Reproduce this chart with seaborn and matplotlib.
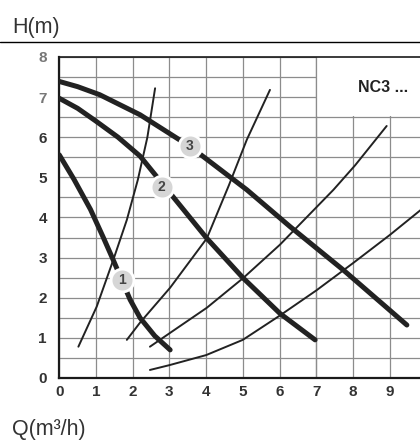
import numpy as np
import seaborn as sns
from matplotlib import pyplot as plt
from matplotlib.patches import Rectangle
from matplotlib.lines import Line2D

# pump curves (speed 1, 2, 3), Q in m3/h, H in m
q1 = [0, 0.4, 0.85, 1.2, 1.47, 1.93, 2.2, 2.6, 3.02]
h1 = [5.56, 4.95, 4.2, 3.5, 2.94, 1.95, 1.5, 1.05, 0.70]

q2 = [0, 0.5, 1.0, 1.6, 2.2, 3.06, 4.02, 5.01, 6.01, 6.97]
h2 = [6.97, 6.72, 6.4, 6.0, 5.53, 4.56, 3.48, 2.49, 1.61, 0.95]

q3 = [0, 0.5, 1.1, 2.2, 3.56, 5.11, 6.29, 7.74, 9.47]
h3 = [7.39, 7.26, 7.06, 6.56, 5.77, 4.69, 3.77, 2.69, 1.32]

# thin system curves
qa = [0.52, 1.02, 1.47, 1.84, 2.14, 2.4, 2.61]
ha = [0.78, 1.78, 2.94, 3.94, 4.94, 6.0, 7.22]

qb = [1.84, 2.2, 3.02, 4.02, 4.62, 5.11, 5.74]
hb = [0.95, 1.38, 2.25, 3.48, 4.8, 5.94, 7.18]

qc = [2.47, 3.06, 4.02, 5.01, 6.01, 7.47, 8.06, 8.92]
hc = [0.78, 1.15, 1.75, 2.49, 3.32, 4.69, 5.3, 6.28]

qd = [2.47, 3.0, 4.0, 5.0, 6.0, 7.0, 8.0, 9.0, 10.0]
hd = [0.2, 0.32, 0.57, 0.95, 1.55, 2.18, 2.86, 3.56, 4.3]

# speed markers
mark_q = [1.7, 2.79, 3.56]
mark_h = [2.44, 4.76, 5.77]
mark_txt = ["1", "2", "3"]

x_ticks = list(range(11))
x_labels = [str(v) for v in range(10)] + [""]
y_ticks = list(range(9))

sns.set_style('white')
plt.rcParams['font.family'] = ['Liberation Sans', 'DejaVu Sans']

ink = '#222222'
grid_col = '#8c8c8c'

fig = plt.figure(figsize=(4.2, 4.41), dpi=100)
ax = fig.add_axes([0.1412, 0.1429, 0.8738, 0.7279])

for q, h in [(qa, ha), (qb, hb), (qc, hc), (qd, hd)]:
    sns.lineplot(x=q, y=h, ax=ax, color=ink, linewidth=1.4, sort=False, estimator=None, zorder=2)

for q, h in [(q1, h1), (q2, h2), (q3, h3)]:
    sns.lineplot(x=q, y=h, ax=ax, color=ink, linewidth=3.6, sort=False, estimator=None, zorder=3)

ax.scatter(mark_q, mark_h, s=270, c='#d6d6d6', edgecolors='white', linewidths=2, zorder=4)
for q, h, t in zip(mark_q, mark_h, mark_txt):
    ax.text(q, h, t, ha='center', va='center', fontsize=10, fontweight='bold', color='#444444', zorder=5)

ax.set_xlim(0, 10)
ax.set_ylim(0, 8)
ax.set_xticks(x_ticks)
ax.set_xticklabels(x_labels)
ax.set_yticks(y_ticks)
ax.set_yticks(np.arange(0.5, 8, 1.0), minor=True)
ax.set_axisbelow(True)
ax.grid(True, which='major', color=grid_col, linewidth=0.9)
ax.grid(True, which='minor', axis='y', color=grid_col, linewidth=0.9)

# white panel for the model name, covers the grid
ax.add_patch(Rectangle((7, 6.52), 3.5, 1.48, facecolor='white', edgecolor='none', zorder=1))
ax.axvline(7, color=grid_col, linewidth=0.9, zorder=1.2)
ax.text(8.14, 7.23, "NC3 ...", fontsize=11.5, fontweight='bold', color=ink, va='center',
        family=['Liberation Sans Narrow', 'Liberation Sans', 'DejaVu Sans'])

ax.tick_params(length=0, labelsize=11, colors='#333333')
ax.tick_params(axis='y', pad=9)
ax.tick_params(axis='x', pad=5)
for lab in ax.get_xticklabels() + ax.get_yticklabels():
    lab.set_fontweight('bold')
    lab.set_family(['Liberation Sans Narrow', 'Liberation Sans', 'DejaVu Sans'])
for lab in ax.get_yticklabels()[7:]:
    lab.set_color('#777777')

for side in ['left', 'bottom']:
    ax.spines[side].set_linewidth(1.6)
    ax.spines[side].set_color('#1a1a1a')
ax.spines['top'].set_linewidth(1.2)
ax.spines['top'].set_color('#1a1a1a')
ax.spines['right'].set_visible(False)

fig.add_artist(Line2D([0, 1], [0.904, 0.904], color='black', linewidth=1.0))
fig.text(0.028, 0.925, "H(m)", fontsize=15.5, color='#333333', va='baseline')
fig.text(0.028, 0.014, "Q(m³/h)", fontsize=15.5, color='#333333', va='baseline')

fig.savefig('out.png', dpi=100)
